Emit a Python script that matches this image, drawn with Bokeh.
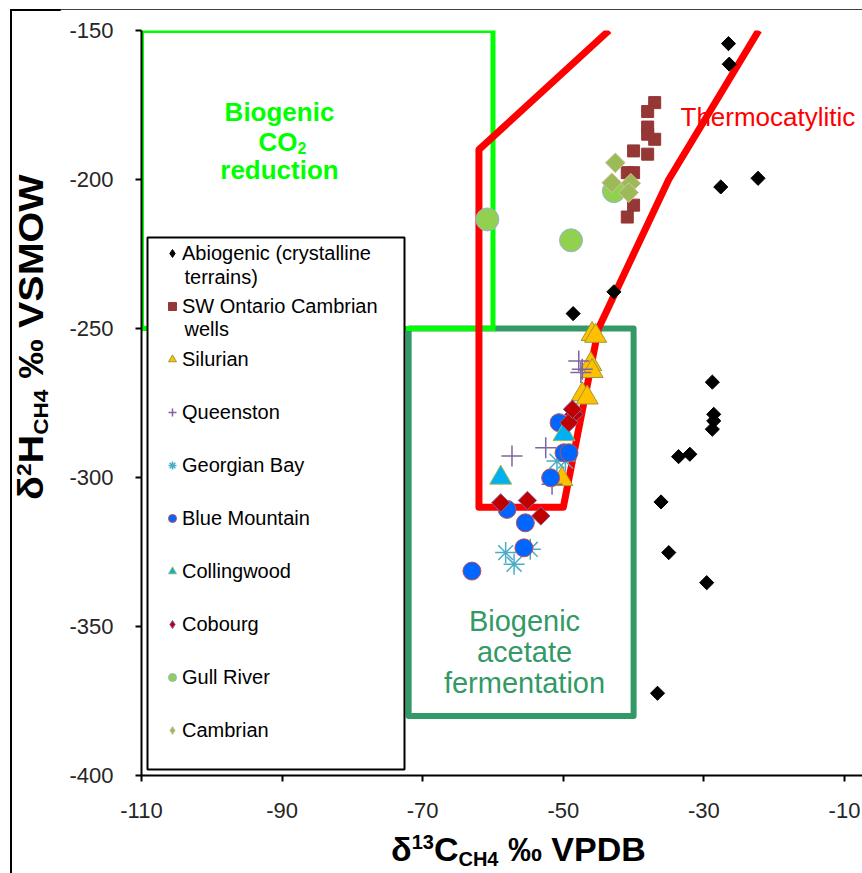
import math

from bokeh.embed import file_html
from bokeh.layouts import column, row
from bokeh.models import (BoxAnnotation, Div, FixedTicker, Label, Legend,
                          LegendItem, Range1d)
from bokeh.plotting import figure
from bokeh.resources import INLINE

# ---------------------------------------------------------------------------
# Isotope data: delta13C (VPDB, per mil) and delta2H (VSMOW, per mil)
# ---------------------------------------------------------------------------
abio_x = [-26.5, -26.4, -27.6, -22.3, -42.8, -48.6, -28.8, -28.6, -28.6,
          -28.8, -33.6, -32.0, -36.1, -35.0, -29.6, -36.6]
abio_y = [-154.4, -161.3, -202.5, -199.6, -237.7, -245.0, -268.0, -278.8,
          -281.0, -283.8, -293.0, -292.2, -308.2, -325.2, -335.3, -372.4]

sw_x = [-37.0, -38.0, -38.0, -38.0, -37.0, -40.0, -38.0, -40.9, -40.0,
        -40.0, -40.9]
sw_y = [-174.2, -177.2, -182.4, -184.8, -186.5, -190.4, -191.5, -197.7,
        -197.7, -208.6, -212.6]

silurian_x = [-45.9, -45.4, -46.1, -45.9, -47.3, -46.6, -50.2]
silurian_y = [-251.9, -252.5, -262.0, -264.3, -272.1, -273.2, -300.6]

queenston_x = [-47.8, -47.3, -47.5, -57.3, -52.5, -51.6]
queenston_y = [-260.9, -263.7, -264.8, -292.8, -290.0, -302.3]

georgian_x = [-58.2, -57.0, -54.7, -50.9, -49.7]
georgian_y = [-325.2, -329.1, -324.1, -294.5, -294.5]

bluemtn_x = [-50.6, -49.9, -49.2, -51.8, -58.0, -55.4, -55.6, -63.0]
bluemtn_y = [-281.6, -291.7, -291.7, -300.1, -310.7, -315.2, -323.6, -331.4]

collingwood_x = [-49.9, -58.9]
collingwood_y = [-285.5, -300.1]

cobourg_x = [-48.5, -49.2, -48.7, -58.9, -55.1, -53.2]
cobourg_y = [-278.8, -281.6, -277.1, -308.5, -307.7, -312.9]

gull_x = [-60.8, -48.9, -42.8]
gull_y = [-213.4, -220.4, -203.9]

cambrian_x = [-42.6, -43.1, -40.4, -40.7]
cambrian_y = [-194.4, -201.1, -201.3, -204.4]

# Genetic fields
co2_box_x = [-110, -110, -60, -60, -110]
co2_box_y = [-250, -150, -150, -250, -250]
acetate_box_x = [-72, -72, -40, -40, -72]
acetate_box_y = [-250, -380, -380, -250, -250]
thermo_x = [-43.5, -62, -62, -50, -45, -35, -22.2]
thermo_y = [-150, -190, -310, -310, -250, -200, -150]

x_ticks = [-110, -90, -70, -50, -30, -10]
y_ticks = [-400, -350, -300, -250, -200, -150]

# ---------------------------------------------------------------------------
# Page geometry (page pixels): a thin top strip, a row holding the y title
# and the plot, and a bottom strip holding the x title.
# ---------------------------------------------------------------------------
PAGE_W, PAGE_H = 862, 873
TOP_H = 9                 # strip carrying the chart's top border
TITLE_W = 60              # column carrying the rotated y title
ROW_BOTTOM = 832          # bottom of the plot row
FRAME_L, FRAME_T, FRAME_B = 141, 30, 775

X_MIN, Y_MIN, Y_MAX = -110, -400, -150
PX_PER_X = 7.03
X_MAX = X_MIN + (PAGE_W - FRAME_L) / PX_PER_X
PX_PER_Y = (FRAME_B - FRAME_T) / (Y_MAX - Y_MIN)

FONT = "Liberation Sans"
CSS_FONT = "'Liberation Sans', Arial, sans-serif"


def px_x(px):
    return X_MIN + (px - FRAME_L) / PX_PER_X


def px_y(py):
    return Y_MAX - (py - FRAME_T) / PX_PER_Y


plot_w = PAGE_W - TITLE_W
plot_h = ROW_BOTTOM - TOP_H
p = figure(width=plot_w, height=plot_h, output_backend="svg",
           toolbar_location=None,
           x_range=Range1d(X_MIN, X_MAX), y_range=Range1d(Y_MIN, Y_MAX),
           min_border_left=FRAME_L - TITLE_W, min_border_top=FRAME_T - TOP_H,
           min_border_bottom=ROW_BOTTOM - FRAME_B, min_border_right=0)
p.outline_line_color = None
p.grid.visible = False
p.background_fill_color = "white"
p.border_fill_color = "white"

for ax, ticks in ((p.xaxis[0], x_ticks), (p.yaxis[0], y_ticks)):
    ax.ticker = FixedTicker(ticks=ticks)
    ax.major_label_overrides = {t: str(t) for t in ticks}
    ax.axis_line_width = 2
    ax.axis_line_color = "black"
    ax.major_tick_line_color = "black"
    ax.major_tick_line_width = 2
    ax.major_tick_in = 0
    ax.major_tick_out = 6
    ax.minor_tick_line_color = None
    ax.major_label_text_font = FONT
    ax.major_label_text_font_size = "22px"
    ax.major_label_text_color = "#262626"
p.xaxis[0].major_label_standoff = 21
p.yaxis[0].major_label_standoff = 22

# Genetic field outlines
p.line(acetate_box_x, acetate_box_y, line_color="#339966", line_width=6,
       line_join="round")
p.line(co2_box_x, co2_box_y, line_color="#00FF00", line_width=5,
       line_join="miter")
p.line(thermo_x, thermo_y, line_color="#FF0000", line_width=7,
       line_join="round")

# Diamond keys for the legend, drawn small under the rotated-square markers
key_abio = p.scatter(abio_x, abio_y, marker="diamond", size=8,
                     fill_color="black", line_color="black")
key_cob = p.scatter(cobourg_x, cobourg_y, marker="diamond", size=8,
                    fill_color="#C00000", line_color="#8064A2")
key_cam = p.scatter(cambrian_x, cambrian_y, marker="diamond", size=8,
                    fill_color="#9BBB59", line_color="#D9C3A5")

# Sample series
diamond = dict(marker="square", angle=math.pi / 4)
r_abio = p.scatter(abio_x, abio_y, size=10, fill_color="black",
                   line_color="black", **diamond)
r_sw = p.scatter(sw_x, sw_y, marker="square", size=12, fill_color="#953735",
                 line_color="#953735")
r_sil = p.scatter(silurian_x, silurian_y, marker="triangle", size=22,
                  fill_color="#FFC000", line_color="#9C9A3A", line_width=1)
r_que = p.scatter(queenston_x, queenston_y, marker="cross", size=21,
                  line_color="#8064A2", line_width=1.5)
r_geo = p.scatter(georgian_x, georgian_y, marker="asterisk", size=21,
                  line_color="#4BACC6", line_width=1.5)
r_blue = p.scatter(bluemtn_x, bluemtn_y, marker="circle", size=18,
                   fill_color="#0066FF", line_color="#C0504D", line_width=1)
r_col = p.scatter(collingwood_x, collingwood_y, marker="triangle", size=22,
                  fill_color="#00B0F0", line_color="#9BBB59", line_width=1)
r_cob = p.scatter(cobourg_x, cobourg_y, size=13, fill_color="#C00000",
                  line_color="#8064A2", line_width=1, **diamond)
r_gull = p.scatter(gull_x, gull_y, marker="circle", size=23,
                   fill_color="#92D050", line_color="#95B3D7", line_width=1)
r_cam = p.scatter(cambrian_x, cambrian_y, size=14, fill_color="#9BBB59",
                  line_color="#D9C3A5", line_width=1, **diamond)


def add_text(txt, px, py, size, color, align="left", baseline="alphabetic",
             bold=False):
    p.add_layout(Label(x=px_x(px), y=px_y(py), text=txt, text_align=align,
                       text_baseline=baseline, text_font=FONT,
                       text_font_style="bold" if bold else "normal",
                       text_font_size=f"{size}px", text_color=color))


# Field labels
add_text("Biogenic", 279, 111.7, 26, "#00FF00", align="center", bold=True)
add_text("CO", 258, 141.7, 26, "#00FF00", bold=True)
add_text("2", 297, 147, 16, "#00FF00", bold=True)
add_text("reduction", 279, 169.3, 26, "#00FF00", align="center", bold=True)

for txt, cy in (("Biogenic", 620), ("acetate", 651), ("fermentation", 682)):
    add_text(txt, 524, cy, 29, "#339966", align="center")

add_text("Thermocatylitic", 680, 116.7, 26, "#FF0000")

# Legend panel
p.add_layout(BoxAnnotation(left=px_x(147), right=px_x(404), top=px_y(237),
                           bottom=px_y(769), fill_color="white", fill_alpha=1,
                           line_color="black", line_alpha=1, line_width=2))

series = [
    ("Abiogenic (crystalline", key_abio),
    ("SW Ontario Cambrian", r_sw),
    ("Silurian", r_sil),
    ("Queenston", r_que),
    ("Georgian Bay", r_geo),
    ("Blue Mountain", r_blue),
    ("Collingwood", r_col),
    ("Cobourg", key_cob),
    ("Gull River", r_gull),
    ("Cambrian", key_cam),
]
ROW_H, ROW_GAP, PAD = 26, 27, 3
legend_h = 2 * PAD + len(series) * ROW_H + (len(series) - 1) * ROW_GAP
legend = Legend(items=[LegendItem(label=t, renderers=[r]) for t, r in series],
                location=(21, FRAME_B - (234 + legend_h)),
                orientation="vertical", glyph_width=20, glyph_height=ROW_H,
                label_height=ROW_H, spacing=ROW_GAP, padding=PAD, margin=0,
                label_standoff=0, border_line_color=None,
                background_fill_alpha=0, label_text_font=FONT,
                label_text_font_size="20px", label_text_color="black")
p.add_layout(legend)

add_text("terrains)", 184, 276, 20, "black", baseline="middle")
add_text("wells", 184, 328, 20, "black", baseline="middle")

# ---------------------------------------------------------------------------
# Axis titles (with sub/superscripts) and the chart border, as HTML strips
# ---------------------------------------------------------------------------
SUP = "font-size:20px;vertical-align:12px;line-height:0"
SUB = "font-size:20px;vertical-align:-5px;line-height:0"
VLINE = ("position:absolute;left:10px;top:0;width:2px;height:100%;"
         "background:black")


def title_css(size):
    return (f"position:absolute;white-space:nowrap;font-family:{CSS_FONT};"
            f"font-weight:bold;font-size:{size}px;line-height:{size}px;"
            "color:black")


def baseline_offset(size):
    # distance from the top of a line box (line-height = size) to baseline
    return 0.8465 * size


def strip(html, w, h):
    body = f'<div style="position:relative;width:{w}px;height:{h}px">{html}</div>'
    return Div(text=body, width=w, height=h, margin=0,
               styles={"overflow": "visible"})


top_strip = strip('<div style="position:absolute;left:10px;top:6px;'
                  f'width:{PAGE_W}px;height:2px;background:black"></div>',
                  PAGE_W, TOP_H)

Y_SIZE = 35
y_title = (f'<div style="{title_css(Y_SIZE)};'
           f'left:{43 - baseline_offset(Y_SIZE):.1f}px;top:{500 - TOP_H}px;'
           'transform-origin:0 0;transform:rotate(-90deg) scaleX(1.13)">'
           f'δ<span style="{SUP}">2</span>H<span style="{SUB}">CH4</span>'
           ' ‰ VSMOW</div>')
y_strip = strip(f'<div style="{VLINE}"></div>' + y_title, TITLE_W, plot_h)

X_SIZE = 34
x_title = (f'<div style="{title_css(X_SIZE)};left:391px;'
           f'top:{861 - ROW_BOTTOM - baseline_offset(X_SIZE):.1f}px">'
           f'δ<span style="{SUP}">13</span>C<span style="{SUB}">CH4</span>'
           ' ‰ VPDB</div>')
x_strip = strip(f'<div style="{VLINE}"></div>' + x_title, PAGE_W,
                PAGE_H - ROW_BOTTOM)

layout = column(top_strip, row(y_strip, p, spacing=0), x_strip, spacing=0)

with open("out.html", "w") as f:
    f.write(file_html(layout, INLINE))
